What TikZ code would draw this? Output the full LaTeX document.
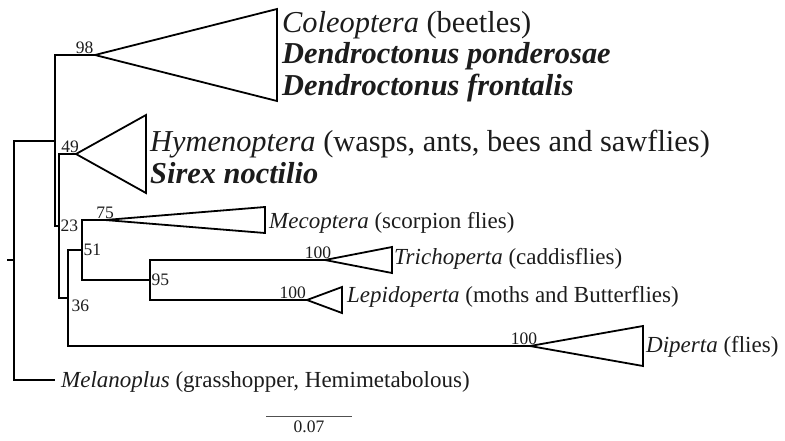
\documentclass[tikz,border=0pt]{standalone}
\usepackage{fontspec}
\setmainfont{Liberation Serif}
\usepackage{tikz}
\usetikzlibrary{positioning}
\definecolor{ink}{HTML}{1C1C1C}
\definecolor{barcol}{HTML}{505050}

\begin{document}
\begin{tikzpicture}[x=1pt,y=-1pt,
  branch/.style={line width=1.8pt},
  clade/.style={line width=1.8pt},
  bs/.style={font=\fontsize{17.5}{17.5}\selectfont,inner sep=1.5pt,text=ink},
  taxbig/.style={font=\fontsize{30.4}{30.4}\selectfont,anchor=base west,inner sep=0pt,text=ink},
  taxmid/.style={font=\fontsize{23}{23}\selectfont,anchor=base west,inner sep=0pt,text=ink}]
  \useasboundingbox (0,0) rectangle (785,440);

  % internal nodes
  \coordinate (stub) at (7,260);
  \coordinate (root) at (14,260);
  \coordinate (ingroup) at (55,141);
  \coordinate (n23) at (59,226);
  \coordinate (n36) at (68,298);
  \coordinate (n51) at (82,250);
  \coordinate (n95) at (150,280);
  % tips (apex of collapsed clades)
  \coordinate (coleo) at (95,55);
  \coordinate (hymen) at (76,154);
  \coordinate (meco) at (105,220);
  \coordinate (trich) at (325,260);
  \coordinate (lepid) at (307,300);
  \coordinate (dipt) at (530,346);
  \coordinate (melan) at (55,380);

  \draw[branch] (stub) -- (root);
  \draw[branch] (root) |- (ingroup);
  \draw[branch] (root) |- (melan);
  \draw[branch] (ingroup) |- (coleo);
  \draw[branch] (ingroup) |- (n23);
  \draw[branch] (n23) |- (hymen);
  \draw[branch] (n23) |- (n36);
  \draw[branch] (n36) |- (n51);
  \draw[branch] (n36) |- (dipt);
  \draw[branch] (n51) |- (meco);
  \draw[branch] (n51) |- (n95);
  \draw[branch] (n95) |- (trich);
  \draw[branch] (n95) |- (lepid);

  \foreach \t/\l/\h in {coleo/182/46,hymen/70/39,meco/160/13,trich/67/13,lepid/35/13,dipt/113/20}{
    \draw[clade] (\t) -- ++(\l,-\h) -- ++(0,2*\h) -- cycle;
  }

  % support values
  \node[bs,above left] (b98) at (coleo) {98};
  \node[bs,above,xshift=-6pt] (b49) at (hymen) {49};
  \node[bs,above] (b75) at (meco) {75};
  \node[bs,above,xshift=-7pt] (b100t) at (trich) {100};
  \node[bs,above left,inner sep=1pt] (b100l) at (lepid) {100};
  \node[bs,above,xshift=-6pt] (b100d) at (dipt) {100};
  \node[bs,anchor=west] (b23) at (n23) {23};
  \node[bs,anchor=west] (b51) at (n51) {51};
  \node[bs,anchor=north west,xshift=2pt] (b36) at (n36) {36};
  \node[bs,anchor=west] (b95) at (n95) {95};

  % taxon labels
  \node[taxbig] (coleotxt) at (282,32) {\textit{Coleoptera} (beetles)};
  \node[taxbig] (dpond) at (282,63) {\textbf{\textit{Dendroctonus ponderosae}}};
  \node[taxbig] (dfront) at (282,95) {\textbf{\textit{Dendroctonus frontalis}}};
  \node[taxbig] (hymentxt) at (150,151) {\textit{Hymenoptera} (wasps, ants, bees and sawflies)};
  \node[taxbig] (sirex) at (150,183) {\textbf{\textit{Sirex noctilio}}};
  \node[taxmid] (mecotxt) at (269,228) {\textit{Mecoptera} (scorpion flies)};
  \node[taxmid] (trichtxt) at (394,264) {\textit{Trichoperta} (caddisflies)};
  \node[taxmid] (lepidtxt) at (347,302) {\textit{Lepidoperta} (moths and Butterflies)};
  \node[taxmid] (dipttxt) at (646,352) {\textit{Diperta} (flies)};
  \node[taxmid] (melantxt) at (61,387) {\textit{Melanoplus} (grasshopper, Hemimetabolous)};

  % scale bar
  \coordinate (sbl) at (266,416);
  \coordinate (sbr) at (352,416);
  \draw[barcol,line width=0.9pt] (sbl) -- (sbr) node[bs,midway,below=3pt] (sblab) {0.07};
\end{tikzpicture}
\end{document}
